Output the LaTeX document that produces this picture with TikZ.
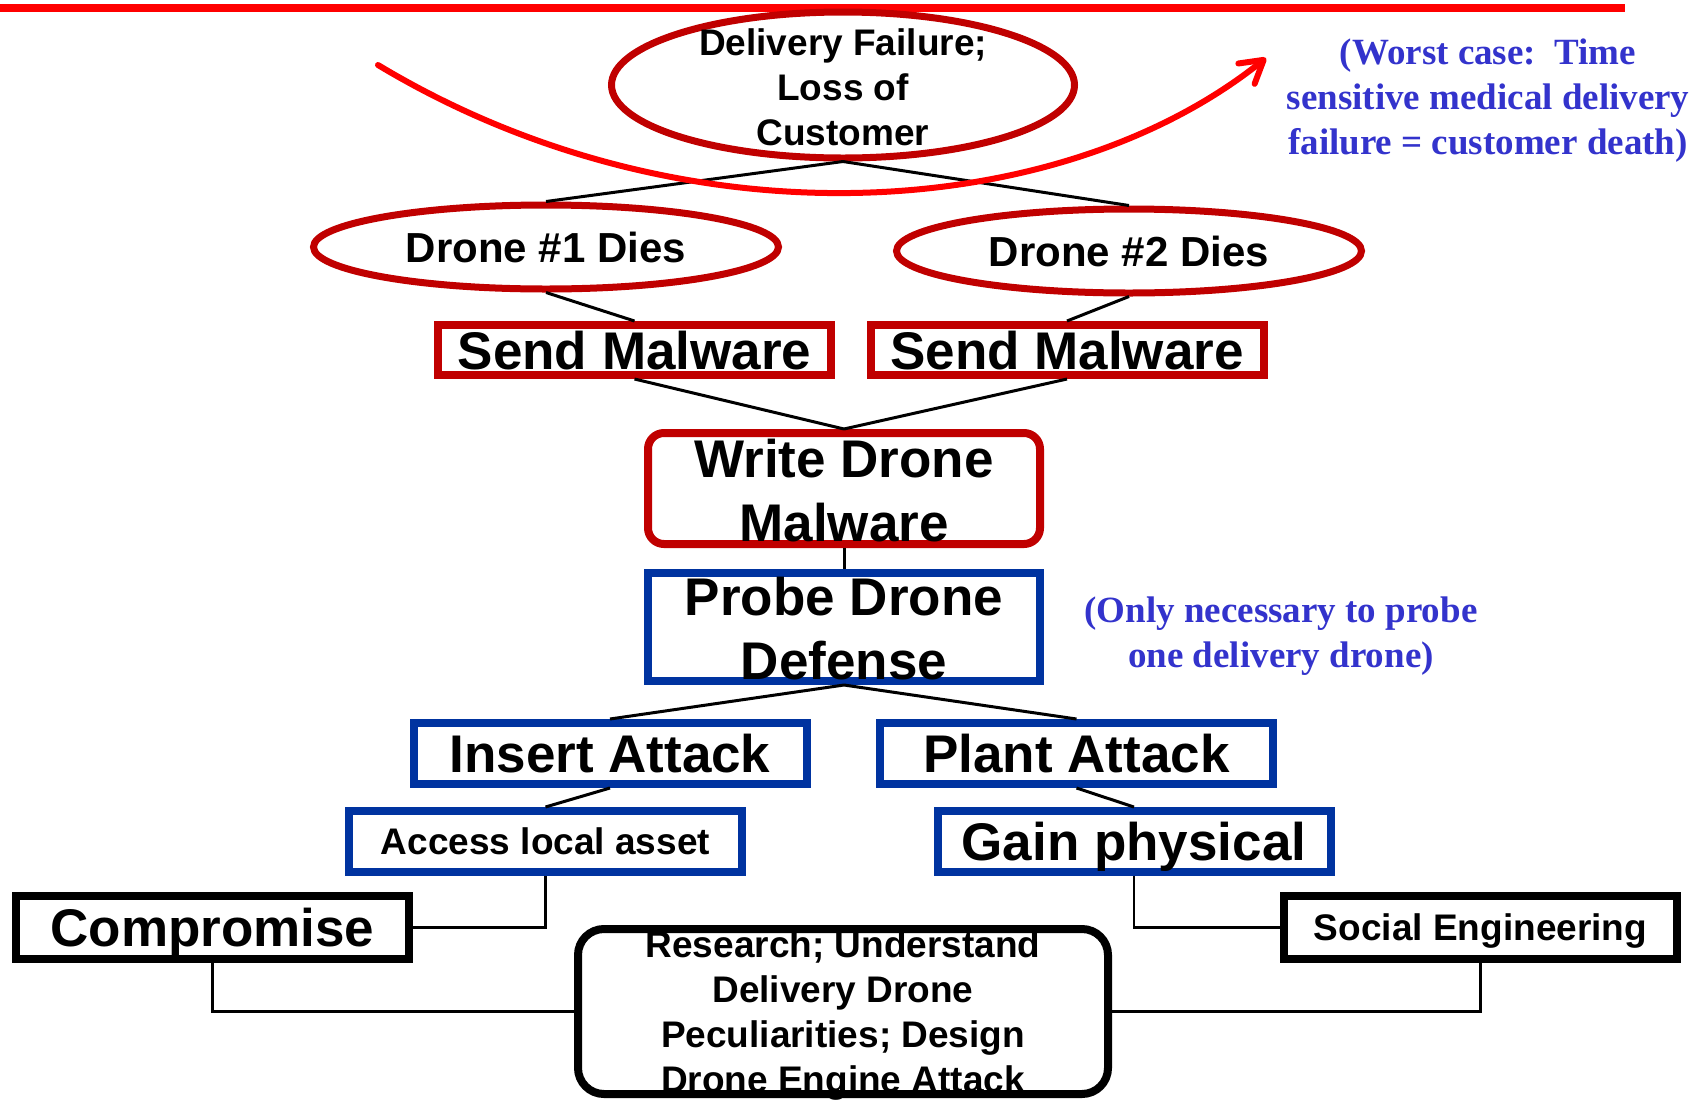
\documentclass[tikz,border=0pt]{standalone}
\usepackage{fontspec}
\setmainfont{Liberation Sans}
\newfontfamily\notefont{Liberation Serif}
\usetikzlibrary{shapes.geometric,arrows.meta}
\definecolor{dred}{RGB}{192,0,0}
\definecolor{dblue}{RGB}{0,51,160}
\definecolor{notecol}{RGB}{51,51,204}
\tikzset{
  redell/.style={ellipse, draw=dred, line width=7pt, inner sep=0pt},
  redbox/.style={rectangle, draw=dred, line width=8pt, inner sep=0pt, align=center},
  bluebox/.style={rectangle, draw=dblue, line width=8pt, inner sep=0pt, align=center},
  blackbox/.style={rectangle, draw=black, line width=8pt, inner sep=0pt, align=center},
  oneline/.style={text depth=0pt},
  bigtext/.style={font=\fontsize{53pt}{64pt}\selectfont\bfseries},
  midtext/.style={font=\fontsize{42pt}{50pt}\selectfont\bfseries},
  smalltext/.style={font=\fontsize{37pt}{45pt}\selectfont\bfseries},
  plain/.style={inner sep=0pt, align=center},
  notetext/.style={inner sep=0pt, align=center, text=notecol,
    font=\notefont\fontsize{37pt}{45pt}\selectfont\bfseries},
  link/.style={draw=black, line width=3pt},
  elbow/.style={draw=black, line width=2.5pt},
}
\begin{document}
\begin{tikzpicture}[x=1pt, y=-1pt]
\useasboundingbox (0,0) rectangle (1708,1101);

% top rule
\draw[red, line width=8pt] (0,8) -- (1625,8);

% goal and the two drone failures
\node[redell, minimum width=463pt, minimum height=146pt] (goal) at (843,85) {};
\node[plain, smalltext] (goaltxt) at (843,87) {Delivery Failure;\\Loss of\\Customer};
\node[redell, minimum width=465pt, minimum height=84pt] (d1) at (546,247) {};
\node[plain, midtext, oneline] (d1txt) at (546,247) {Drone \#1 Dies};
\node[redell, minimum width=465pt, minimum height=84pt] (d2) at (1129,251) {};
\node[plain, midtext, oneline] (d2txt) at (1129,251) {Drone \#2 Dies};

% malware branch
\node[redbox, bigtext, oneline, minimum width=393pt, minimum height=50pt] (sendl) at (634.5,350) {Send Malware};
\node[redbox, bigtext, oneline, minimum width=393pt, minimum height=50pt] (sendr) at (1067,350) {Send Malware};
\node[redbox, rounded corners=16pt, minimum width=392pt, minimum height=111pt] (write) at (844,488.5) {};
\node[plain, bigtext] (writetxt) at (844,491) {Write Drone\\Malware};

% probing branch
\node[bluebox, minimum width=392pt, minimum height=108pt] (probe) at (844,627) {};
\node[plain, bigtext] (probetxt) at (844,629) {Probe Drone\\Defense};
\node[bluebox, bigtext, oneline, minimum width=393pt, minimum height=61pt] (insert) at (610,753.5) {Insert Attack};
\node[bluebox, bigtext, oneline, minimum width=393pt, minimum height=61pt] (plant) at (1076.5,753.5) {Plant Attack};
\node[bluebox, smalltext, oneline, minimum width=393pt, minimum height=61pt] (access) at (545.5,841.5) {Access local asset};
\node[bluebox, bigtext, oneline, minimum width=393pt, minimum height=61pt] (gain) at (1134,841.5) {Gain physical};

% leaf steps
\node[blackbox, bigtext, oneline, minimum width=393pt, minimum height=63pt] (comp) at (212.5,927.5) {Compromise};
\node[blackbox, smalltext, oneline, minimum width=393pt, minimum height=63pt] (social) at (1480.5,927.5) {Social Engineering};
\node[blackbox, rounded corners=26pt, minimum width=530pt, minimum height=165pt] (research) at (843,1011.5) {};
\node[plain, smalltext] (restxt) at (843,1015) {Research; Understand\\Delivery Drone\\Peculiarities; Design\\Drone Engine Attack};

% side notes
\node[notetext] (note1) at (1488,100.5) {(Worst case:\ \ Time\\sensitive medical delivery\\failure = customer death)};
\node[notetext] (note2) at (1281,636.5) {(Only necessary to probe\\one delivery drone)};

% tree links
\draw[link] (goal.south) -- (d1.north);
\draw[link] (goal.south) -- (d2.north);
\draw[link] (d1.south) -- (sendl.north);
\draw[link] (d2.south) -- (sendr.north);
\draw[link] (sendl.south) -- (write.north);
\draw[link] (sendr.south) -- (write.north);
\draw[link] (write.south) -- (probe.north);
\draw[link] (probe.south) -- (insert.north);
\draw[link] (probe.south) -- (plant.north);
\draw[link] (insert.south) -- (access.north);
\draw[link] (plant.south) -- (gain.north);
\draw[elbow] (access.south) |- (comp.east);
\draw[elbow] (gain.south) |- (social.west);
\draw[elbow] (comp.south) |- (research.west);
\draw[elbow] (social.south) |- (research.east);

% escalation arrow
\coordinate (arrstart) at (378,65);
\coordinate (arrend) at (1266,58);
\draw[red, line width=6pt, line cap=round,
      -{Straight Barb[length=22pt, width=26pt, round]}]
  (arrstart) .. controls (684,249) and (1060,223) .. (arrend);
\end{tikzpicture}
\end{document}
